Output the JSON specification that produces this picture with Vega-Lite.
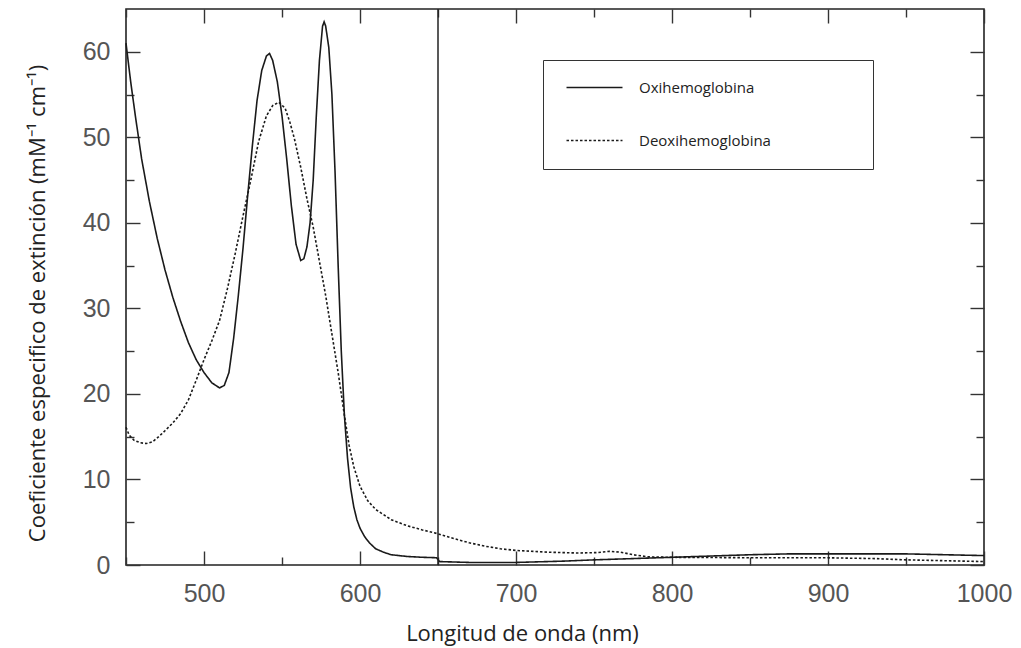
{
  "$schema": "https://vega.github.io/schema/vega-lite/v6.json",
  "width": 858,
  "height": 556,
  "autosize": "none",
  "padding": {"left": 126, "top": 9, "right": 37, "bottom": 83},
  "background": "white",
  "config": {
    "view": {"stroke": "#222", "strokeWidth": 1.6},
    "axis": {
      "domain": false,
      "grid": false,
      "tickColor": "#333",
      "tickWidth": 1.4,
      "labelFont": "Liberation Sans",
      "labelFontSize": 25,
      "labelColor": "#555",
      "labelFlush": false,
      "labelOverlap": false,
      "titleFont": "Open Sans",
      "titleFontWeight": "normal",
      "titleColor": "#222"
    }
  },
  "datasets": {
    "curves": [
      {"nm": 450, "v": 61.0, "serie": "Oxihemoglobina"},
      {"nm": 453, "v": 56.5, "serie": "Oxihemoglobina"},
      {"nm": 456, "v": 52.5, "serie": "Oxihemoglobina"},
      {"nm": 460, "v": 47.5, "serie": "Oxihemoglobina"},
      {"nm": 465, "v": 42.5, "serie": "Oxihemoglobina"},
      {"nm": 470, "v": 38.2, "serie": "Oxihemoglobina"},
      {"nm": 475, "v": 34.5, "serie": "Oxihemoglobina"},
      {"nm": 480, "v": 31.3, "serie": "Oxihemoglobina"},
      {"nm": 485, "v": 28.5, "serie": "Oxihemoglobina"},
      {"nm": 490, "v": 26.0, "serie": "Oxihemoglobina"},
      {"nm": 495, "v": 24.0, "serie": "Oxihemoglobina"},
      {"nm": 500, "v": 22.5, "serie": "Oxihemoglobina"},
      {"nm": 505, "v": 21.3, "serie": "Oxihemoglobina"},
      {"nm": 510, "v": 20.7, "serie": "Oxihemoglobina"},
      {"nm": 513, "v": 21.0, "serie": "Oxihemoglobina"},
      {"nm": 516, "v": 22.5, "serie": "Oxihemoglobina"},
      {"nm": 519, "v": 26.5, "serie": "Oxihemoglobina"},
      {"nm": 522, "v": 31.5, "serie": "Oxihemoglobina"},
      {"nm": 525, "v": 37.0, "serie": "Oxihemoglobina"},
      {"nm": 528, "v": 43.2, "serie": "Oxihemoglobina"},
      {"nm": 531, "v": 49.0, "serie": "Oxihemoglobina"},
      {"nm": 534, "v": 54.3, "serie": "Oxihemoglobina"},
      {"nm": 537, "v": 57.8, "serie": "Oxihemoglobina"},
      {"nm": 540, "v": 59.5, "serie": "Oxihemoglobina"},
      {"nm": 542, "v": 59.8, "serie": "Oxihemoglobina"},
      {"nm": 544, "v": 59.0, "serie": "Oxihemoglobina"},
      {"nm": 547, "v": 56.5, "serie": "Oxihemoglobina"},
      {"nm": 550, "v": 52.5, "serie": "Oxihemoglobina"},
      {"nm": 553, "v": 47.5, "serie": "Oxihemoglobina"},
      {"nm": 556, "v": 42.0, "serie": "Oxihemoglobina"},
      {"nm": 559, "v": 37.5, "serie": "Oxihemoglobina"},
      {"nm": 562, "v": 35.6, "serie": "Oxihemoglobina"},
      {"nm": 564, "v": 35.8, "serie": "Oxihemoglobina"},
      {"nm": 566, "v": 37.2, "serie": "Oxihemoglobina"},
      {"nm": 568, "v": 40.0, "serie": "Oxihemoglobina"},
      {"nm": 570, "v": 45.0, "serie": "Oxihemoglobina"},
      {"nm": 572, "v": 52.5, "serie": "Oxihemoglobina"},
      {"nm": 574, "v": 59.0, "serie": "Oxihemoglobina"},
      {"nm": 576, "v": 63.0, "serie": "Oxihemoglobina"},
      {"nm": 577, "v": 63.5, "serie": "Oxihemoglobina"},
      {"nm": 578, "v": 63.0, "serie": "Oxihemoglobina"},
      {"nm": 580, "v": 60.5, "serie": "Oxihemoglobina"},
      {"nm": 582, "v": 55.0, "serie": "Oxihemoglobina"},
      {"nm": 584, "v": 46.0, "serie": "Oxihemoglobina"},
      {"nm": 586, "v": 35.0, "serie": "Oxihemoglobina"},
      {"nm": 588, "v": 25.0, "serie": "Oxihemoglobina"},
      {"nm": 590, "v": 17.5, "serie": "Oxihemoglobina"},
      {"nm": 592, "v": 12.5, "serie": "Oxihemoglobina"},
      {"nm": 594, "v": 9.0, "serie": "Oxihemoglobina"},
      {"nm": 596, "v": 6.8, "serie": "Oxihemoglobina"},
      {"nm": 598, "v": 5.3, "serie": "Oxihemoglobina"},
      {"nm": 600, "v": 4.3, "serie": "Oxihemoglobina"},
      {"nm": 603, "v": 3.3, "serie": "Oxihemoglobina"},
      {"nm": 606, "v": 2.6, "serie": "Oxihemoglobina"},
      {"nm": 610, "v": 1.9, "serie": "Oxihemoglobina"},
      {"nm": 615, "v": 1.5, "serie": "Oxihemoglobina"},
      {"nm": 620, "v": 1.2, "serie": "Oxihemoglobina"},
      {"nm": 630, "v": 1.0, "serie": "Oxihemoglobina"},
      {"nm": 640, "v": 0.9, "serie": "Oxihemoglobina"},
      {"nm": 649, "v": 0.85, "serie": "Oxihemoglobina"},
      {"nm": 651, "v": 0.4, "serie": "Oxihemoglobina"},
      {"nm": 670, "v": 0.3, "serie": "Oxihemoglobina"},
      {"nm": 700, "v": 0.3, "serie": "Oxihemoglobina"},
      {"nm": 730, "v": 0.45, "serie": "Oxihemoglobina"},
      {"nm": 750, "v": 0.6, "serie": "Oxihemoglobina"},
      {"nm": 775, "v": 0.75, "serie": "Oxihemoglobina"},
      {"nm": 800, "v": 0.9, "serie": "Oxihemoglobina"},
      {"nm": 825, "v": 1.05, "serie": "Oxihemoglobina"},
      {"nm": 850, "v": 1.2, "serie": "Oxihemoglobina"},
      {"nm": 875, "v": 1.3, "serie": "Oxihemoglobina"},
      {"nm": 900, "v": 1.3, "serie": "Oxihemoglobina"},
      {"nm": 950, "v": 1.3, "serie": "Oxihemoglobina"},
      {"nm": 975, "v": 1.2, "serie": "Oxihemoglobina"},
      {"nm": 1000, "v": 1.1, "serie": "Oxihemoglobina"},
      {"nm": 450, "v": 16.1, "serie": "Deoxihemoglobina"},
      {"nm": 452, "v": 15.2, "serie": "Deoxihemoglobina"},
      {"nm": 455, "v": 14.6, "serie": "Deoxihemoglobina"},
      {"nm": 459, "v": 14.3, "serie": "Deoxihemoglobina"},
      {"nm": 463, "v": 14.2, "serie": "Deoxihemoglobina"},
      {"nm": 467, "v": 14.4, "serie": "Deoxihemoglobina"},
      {"nm": 471, "v": 15.0, "serie": "Deoxihemoglobina"},
      {"nm": 475, "v": 15.7, "serie": "Deoxihemoglobina"},
      {"nm": 480, "v": 16.6, "serie": "Deoxihemoglobina"},
      {"nm": 485, "v": 17.7, "serie": "Deoxihemoglobina"},
      {"nm": 490, "v": 19.3, "serie": "Deoxihemoglobina"},
      {"nm": 495, "v": 21.6, "serie": "Deoxihemoglobina"},
      {"nm": 500, "v": 24.0, "serie": "Deoxihemoglobina"},
      {"nm": 505, "v": 26.2, "serie": "Deoxihemoglobina"},
      {"nm": 510, "v": 28.6, "serie": "Deoxihemoglobina"},
      {"nm": 515, "v": 32.3, "serie": "Deoxihemoglobina"},
      {"nm": 520, "v": 36.4, "serie": "Deoxihemoglobina"},
      {"nm": 525, "v": 40.8, "serie": "Deoxihemoglobina"},
      {"nm": 530, "v": 45.0, "serie": "Deoxihemoglobina"},
      {"nm": 535, "v": 49.5, "serie": "Deoxihemoglobina"},
      {"nm": 540, "v": 52.5, "serie": "Deoxihemoglobina"},
      {"nm": 544, "v": 53.7, "serie": "Deoxihemoglobina"},
      {"nm": 548, "v": 54.1, "serie": "Deoxihemoglobina"},
      {"nm": 552, "v": 53.4, "serie": "Deoxihemoglobina"},
      {"nm": 555, "v": 51.8, "serie": "Deoxihemoglobina"},
      {"nm": 558, "v": 49.8, "serie": "Deoxihemoglobina"},
      {"nm": 562, "v": 46.5, "serie": "Deoxihemoglobina"},
      {"nm": 566, "v": 42.8, "serie": "Deoxihemoglobina"},
      {"nm": 570, "v": 39.5, "serie": "Deoxihemoglobina"},
      {"nm": 574, "v": 35.5, "serie": "Deoxihemoglobina"},
      {"nm": 578, "v": 31.5, "serie": "Deoxihemoglobina"},
      {"nm": 582, "v": 27.0, "serie": "Deoxihemoglobina"},
      {"nm": 586, "v": 22.5, "serie": "Deoxihemoglobina"},
      {"nm": 590, "v": 17.5, "serie": "Deoxihemoglobina"},
      {"nm": 593, "v": 14.0, "serie": "Deoxihemoglobina"},
      {"nm": 596, "v": 11.5, "serie": "Deoxihemoglobina"},
      {"nm": 600, "v": 9.2, "serie": "Deoxihemoglobina"},
      {"nm": 605, "v": 7.5, "serie": "Deoxihemoglobina"},
      {"nm": 610, "v": 6.5, "serie": "Deoxihemoglobina"},
      {"nm": 615, "v": 5.9, "serie": "Deoxihemoglobina"},
      {"nm": 620, "v": 5.3, "serie": "Deoxihemoglobina"},
      {"nm": 630, "v": 4.6, "serie": "Deoxihemoglobina"},
      {"nm": 640, "v": 4.1, "serie": "Deoxihemoglobina"},
      {"nm": 649, "v": 3.7, "serie": "Deoxihemoglobina"},
      {"nm": 660, "v": 3.1, "serie": "Deoxihemoglobina"},
      {"nm": 670, "v": 2.6, "serie": "Deoxihemoglobina"},
      {"nm": 680, "v": 2.2, "serie": "Deoxihemoglobina"},
      {"nm": 690, "v": 1.9, "serie": "Deoxihemoglobina"},
      {"nm": 700, "v": 1.7, "serie": "Deoxihemoglobina"},
      {"nm": 720, "v": 1.5, "serie": "Deoxihemoglobina"},
      {"nm": 740, "v": 1.4, "serie": "Deoxihemoglobina"},
      {"nm": 752, "v": 1.45, "serie": "Deoxihemoglobina"},
      {"nm": 760, "v": 1.6, "serie": "Deoxihemoglobina"},
      {"nm": 767, "v": 1.5, "serie": "Deoxihemoglobina"},
      {"nm": 775, "v": 1.2, "serie": "Deoxihemoglobina"},
      {"nm": 785, "v": 0.95, "serie": "Deoxihemoglobina"},
      {"nm": 800, "v": 0.9, "serie": "Deoxihemoglobina"},
      {"nm": 850, "v": 0.85, "serie": "Deoxihemoglobina"},
      {"nm": 900, "v": 0.84, "serie": "Deoxihemoglobina"},
      {"nm": 930, "v": 0.75, "serie": "Deoxihemoglobina"},
      {"nm": 950, "v": 0.6, "serie": "Deoxihemoglobina"},
      {"nm": 975, "v": 0.5, "serie": "Deoxihemoglobina"},
      {"nm": 1000, "v": 0.4, "serie": "Deoxihemoglobina"}
    ],
    "divisor": [{"nm": 650}]
  },
  "layer": [
    {
      "data": {"name": "curves"},
      "mark": {"type": "line", "color": "#1a1a1a", "strokeWidth": 1.6},
      "encoding": {
        "x": {
          "field": "nm", "type": "quantitative",
          "scale": {"domain": [450, 1000], "nice": false, "zero": false},
          "axis": {
            "orient": "bottom",
            "values": [450, 500, 550, 600, 650, 700, 750, 800, 850, 900, 950, 1000],
            "format": "d",
            "labelExpr": "datum.value % 100 === 0 ? datum.label : ''",
            "tickSize": {"condition": {"test": "datum.value % 100 === 0", "value": -14}, "value": -8},
            "labelPadding": 30,
            "title": "Longitud de onda  (nm)",
            "titleFontSize": 22,
            "titleX": 396,
            "titleY": 68,
            "titleAnchor": "middle",
            "titleAlign": "center",
            "titleBaseline": "middle"
          }
        },
        "y": {
          "field": "v", "type": "quantitative",
          "scale": {"domain": [0, 65], "nice": false},
          "axis": {
            "orient": "left",
            "values": [0, 5, 10, 15, 20, 25, 30, 35, 40, 45, 50, 55, 60],
            "labelExpr": "datum.value % 10 === 0 ? datum.label : ''",
            "tickSize": {"condition": {"test": "datum.value % 10 === 0", "value": -14}, "value": -8},
            "labelPadding": 30,
            "title": "Coeficiente especifico de extinción (mM⁻¹ cm⁻¹)",
            "titleFontSize": 22,
            "titleX": -89,
            "titleY": 294,
            "titleAngle": -90,
            "titleAlign": "center",
            "titleBaseline": "middle"
          }
        },
        "strokeDash": {
          "field": "serie", "type": "nominal",
          "scale": {"domain": ["Oxihemoglobina", "Deoxihemoglobina"], "range": [[1, 0], [2.5, 2]]},
          "legend": {
            "orient": "none",
            "legendX": 417,
            "legendY": 51,
            "title": null,
            "padding": 20,
            "strokeColor": "#333",
            "fillColor": "white",
            "symbolType": "M-9.33,0H9.33",
            "symbolSize": 36,
            "symbolOffset": 24,
            "symbolStrokeWidth": 1.6,
            "symbolStrokeColor": "#1a1a1a",
            "labelFont": "Open Sans",
            "labelFontSize": 15,
            "labelColor": "#222",
            "labelOffset": 37,
            "labelLimit": 0,
            "rowPadding": 37,
            "labelExpr": "pad(datum.label, 37, '\u00a0') + '\u200b'"
          }
        }
      }
    },
    {
      "data": {"name": "divisor"},
      "mark": {"type": "rule", "color": "#222", "strokeWidth": 1.5},
      "encoding": {
        "x": {
          "field": "nm", "type": "quantitative",
          "scale": {"domain": [450, 1000], "nice": false, "zero": false},
          "axis": {
            "orient": "top",
            "values": [450, 500, 550, 600, 650, 700, 750, 800, 850, 900, 950, 1000],
            "labels": false,
            "title": null,
            "tickSize": {"condition": {"test": "datum.value % 100 === 0", "value": -14}, "value": -8}
          }
        },
        "y": {
          "datum": 0, "type": "quantitative",
          "scale": {"domain": [0, 65], "nice": false},
          "axis": {
            "orient": "right",
            "values": [0, 5, 10, 15, 20, 25, 30, 35, 40, 45, 50, 55, 60],
            "labels": false,
            "title": null,
            "tickSize": {"condition": {"test": "datum.value % 10 === 0", "value": -14}, "value": -8}
          }
        },
        "y2": {"datum": 65}
      }
    }
  ],
  "resolve": {"axis": {"x": "independent", "y": "independent"}}
}
